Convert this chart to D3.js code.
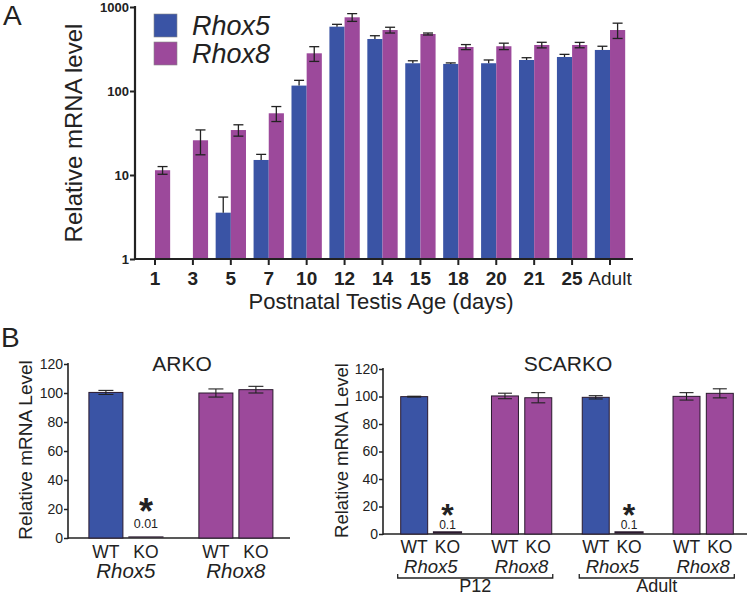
<!DOCTYPE html>
<html>
<head>
<meta charset="utf-8">
<script src="https://cdn.jsdelivr.net/npm/d3@7"></script>
<style>
  body { margin: 0; background: #fff; }
  svg { display: block; font-family: "Liberation Sans", Arial, sans-serif; }
  text { fill: #222; }
</style>
</head>
<body>
<div id="contents"></div>
<script>
// ---- panel A data ----
var ages = ["1", "3", "5", "7", "10", "12", "14", "15", "18", "20", "21", "25", "Adult"];
var genes = ["Rhox5", "Rhox8"];
var rhox5Mean = [null, null, 3.56, 15.1, 116, 583, 416, 214, 210, 214, 234, 254, 308];
var rhox5Sem  = [null, null, 1.9, 2.5, 18, 39, 39, 15, 6, 20, 15, 19, 33];
var rhox8Mean = [11.4, 25.9, 34.3, 54.3, 281, 754, 532, 477, 334, 341, 353, 353, 532];
var rhox8Sem  = [1.2, 8.5, 5.3, 11, 56, 80, 42, 13, 23, 30, 27, 26, 110];
var logTicks = [1, 10, 100, 1000];

// ---- panel B data ----
var conds = ["WT", "KO"];
var arkoGroups = ["Rhox5", "Rhox8"];
var arkoMean = [[100.4, 0.01], [100, 102.3]];
var arkoSem  = [[1.4, 0], [2.8, 2.3]];

var scarkoGroups = ["P12 Rhox5", "P12 Rhox8", "Adult Rhox5", "Adult Rhox8"];
var scarkoMean = [[99.9, 0.1], [100.4, 99.1], [99.4, 0.1], [100.1, 102.3]];
var scarkoSem  = [[0.3, 0], [2, 3.7], [1.2, 0], [2.7, 3.3]];
var stages = ["P12", "Adult"];
var linTicks = [0, 20, 40, 60, 80, 100, 120];

var blue = "#3a54a5", purple = "#9c499b";
var color = d3.scaleOrdinal().domain(genes).range([blue, purple]);

var width = 748, height = 597;
var svg = d3.select("#contents").append("svg")
  .attr("width", width).attr("height", height);

// ================= Panel A =================
var x = d3.scaleBand().domain(ages).range([135, 630]).paddingInner(0.2).paddingOuter(0.127);
var xs = d3.scaleBand().domain(genes).range([0, x.bandwidth()]);
var y = d3.scaleLog().domain([1, 1000]).range([259, 7]);

var rowsA = ages.map(function(a, i) {
  return [
    { age: a, gene: "Rhox5", v: rhox5Mean[i], e: rhox5Sem[i], upOnly: true },
    { age: a, gene: "Rhox8", v: rhox8Mean[i], e: rhox8Sem[i], upOnly: false }
  ];
});
var barsA = [].concat.apply([], rowsA).filter(function(d) { return d.v != null; });

var gA = svg.append("g");
gA.selectAll(".barA").data(barsA).enter().append("rect")
  .attr("class", "barA")
  .attr("x", function(d) { return x(d.age) + xs(d.gene); })
  .attr("y", function(d) { return y(d.v); })
  .attr("width", xs.bandwidth())
  .attr("height", function(d) { return y(1) - y(d.v); })
  .attr("fill", function(d) { return color(d.gene); });

var errA = gA.selectAll(".errA").data(barsA).enter().append("g")
  .attr("class", "errA")
  .attr("stroke", "#222").attr("stroke-width", 1.3);
function cxA(d) { return x(d.age) + xs(d.gene) + xs.bandwidth() / 2; }
errA.append("line")
  .attr("x1", cxA).attr("x2", cxA)
  .attr("y1", function(d) { return y(d.v + d.e); })
  .attr("y2", function(d) { return d.upOnly ? y(d.v) : y(d.v - d.e); });
errA.append("line")
  .attr("x1", function(d) { return cxA(d) - 5; }).attr("x2", function(d) { return cxA(d) + 5; })
  .attr("y1", function(d) { return y(d.v + d.e); }).attr("y2", function(d) { return y(d.v + d.e); });
errA.filter(function(d) { return !d.upOnly; }).append("line")
  .attr("x1", function(d) { return cxA(d) - 5; }).attr("x2", function(d) { return cxA(d) + 5; })
  .attr("y1", function(d) { return y(d.v - d.e); }).attr("y2", function(d) { return y(d.v - d.e); });

// axes A
var axA = gA.append("g").attr("transform", "translate(0,259)")
  .call(d3.axisBottom(x).tickSize(6).tickPadding(7).tickSizeOuter(0));
axA.select(".domain").remove();
axA.selectAll(".tick line").attr("stroke", "#222").attr("stroke-width", 2);
axA.selectAll(".tick text")
  .attr("font-size", 19).attr("font-weight", function(d) { return d === "Adult" ? "normal" : "bold"; })
  .attr("fill", "#222")
  .attr("font-family", "Liberation Sans, Arial, sans-serif");

var ayA = gA.append("g").attr("transform", "translate(135,0)")
  .call(d3.axisLeft(y).tickValues(logTicks).tickFormat(d3.format("d")).tickSize(5).tickPadding(1));
ayA.select(".domain").remove();
ayA.selectAll(".tick line").attr("stroke", "#222").attr("stroke-width", 2);
ayA.selectAll(".tick text").attr("font-size", 13).attr("font-weight", "bold").attr("fill", "#222")
  .attr("font-family", "Liberation Sans, Arial, sans-serif");

gA.append("line").attr("x1", 135).attr("x2", 135).attr("y1", 6).attr("y2", 260)
  .attr("stroke", "#222").attr("stroke-width", 2.2);
gA.append("line").attr("x1", 134).attr("x2", 633).attr("y1", 259).attr("y2", 259)
  .attr("stroke", "#222").attr("stroke-width", 2.2);

gA.append("text").attr("x", 381).attr("y", 309).attr("text-anchor", "middle")
  .attr("font-size", 22).text("Postnatal Testis Age (days)");
gA.append("text").attr("transform", "translate(82,133) rotate(-90)").attr("text-anchor", "middle")
  .attr("font-size", 24).text("Relative mRNA level");
gA.append("text").attr("x", 3).attr("y", 25).attr("font-size", 28).text("A");

// legend
var leg = gA.selectAll(".leg").data(genes).enter().append("g")
  .attr("transform", function(d, i) { return "translate(154," + (14 + i * 28) + ")"; });
leg.append("rect").attr("width", 23).attr("height", 23)
  .attr("fill", function(d) { return color(d); }).attr("stroke", "#888").attr("stroke-width", 0.6);
leg.append("text").attr("x", 38).attr("y", 21).attr("font-size", 27).attr("font-style", "italic")
  .text(function(d) { return d; });

// ================= Panel B =================
function drawB(opt) {
  var g = svg.append("g");
  var gx = d3.scaleBand().domain(opt.groups).range(opt.range)
    .paddingInner(opt.pIn).paddingOuter(opt.pOut);
  var cx = d3.scaleBand().domain(conds).range([0, gx.bandwidth()]).paddingInner(opt.cPad);
  var gy = d3.scaleLinear().domain([0, 120]).range([opt.y0, opt.y120]);

  var rows = [];
  opt.groups.forEach(function(gr, i) {
    conds.forEach(function(c, j) {
      rows.push({ group: gr, cond: c, v: opt.mean[i][j], e: opt.sem[i][j],
        gene: gr.indexOf("Rhox5") >= 0 ? "Rhox5" : "Rhox8" });
    });
  });

  // axes first so the knocked-out bars sit on top of the baseline
  var ay = g.append("g").attr("transform", "translate(" + opt.range[0] + ",0)")
    .call(d3.axisLeft(gy).tickValues(linTicks).tickSize(4).tickPadding(1));
  ay.select(".domain").remove();
  ay.selectAll(".tick line").attr("stroke", "#222").attr("stroke-width", 1.5);
  ay.selectAll(".tick text").attr("font-size", 14).attr("fill", "#222")
    .attr("font-family", "Liberation Sans, Arial, sans-serif");
  g.append("line").attr("x1", opt.range[0]).attr("x2", opt.range[0])
    .attr("y1", gy(120) - 1).attr("y2", gy(0) + 1).attr("stroke", "#222").attr("stroke-width", 1.6);
  g.append("line").attr("x1", opt.range[0]).attr("x2", opt.axisEnd)
    .attr("y1", gy(0)).attr("y2", gy(0)).attr("stroke", "#222").attr("stroke-width", 1.6);

  g.selectAll(".barB").data(rows).enter().append("rect")
    .attr("x", function(d) { return gx(d.group) + cx(d.cond); })
    .attr("y", function(d) { return gy(d.v) - (d.v < 1 ? opt.koLift : 0); })
    .attr("width", cx.bandwidth())
    .attr("height", function(d) { return gy(0) - gy(d.v); })
    .attr("fill", function(d) { return color(d.gene); })
    .attr("stroke", "#2a1a2e").attr("stroke-width", function(d) { return d.v < 1 ? opt.koStroke : 1; });

  function bx(d) { return gx(d.group) + cx(d.cond) + cx.bandwidth() / 2; }
  var eb = g.selectAll(".errB").data(rows.filter(function(d) { return d.e > 0; })).enter().append("g")
    .attr("stroke", "#222").attr("stroke-width", 1.1);
  eb.append("line").attr("x1", bx).attr("x2", bx)
    .attr("y1", function(d) { return gy(d.v + d.e); }).attr("y2", function(d) { return gy(d.v - d.e); });
  [1, -1].forEach(function(s) {
    eb.append("line")
      .attr("x1", function(d) { return bx(d) - opt.cap; }).attr("x2", function(d) { return bx(d) + opt.cap; })
      .attr("y1", function(d) { return gy(d.v + s * d.e); }).attr("y2", function(d) { return gy(d.v + s * d.e); });
  });

  // knockout marks
  var ko = rows.filter(function(d) { return d.v < 1; });
  g.selectAll(".star").data(ko).enter().append("text")
    .attr("x", bx).attr("y", opt.starY).attr("text-anchor", "middle")
    .attr("font-size", opt.starSize).attr("font-weight", "bold").text("*");
  g.selectAll(".kov").data(ko).enter().append("text")
    .attr("x", bx).attr("y", opt.valY).attr("text-anchor", "middle")
    .attr("font-size", opt.valSize).text(function(d) { return String(d.v); });

  // category labels
  g.selectAll(".cond").data(rows).enter().append("text")
    .attr("x", bx).attr("y", opt.condY).attr("text-anchor", "middle")
    .attr("font-size", opt.condSize).text(function(d) { return d.cond; });
  g.selectAll(".gene").data(opt.groups).enter().append("text")
    .attr("x", function(d) { return gx(d) + gx.bandwidth() / 2; })
    .attr("y", opt.geneY).attr("text-anchor", "middle")
    .attr("font-size", opt.geneSize).attr("font-style", "italic")
    .text(function(d) { return d.indexOf("Rhox5") >= 0 ? "Rhox5" : "Rhox8"; });

  g.append("text").attr("x", opt.titleX).attr("y", 371).attr("text-anchor", "middle")
    .attr("font-size", 21).text(opt.title);
  g.append("text").attr("transform", "translate(" + opt.ytX + "," + ((opt.y0 + opt.y120) / 2 - 1) + ") rotate(-90)")
    .attr("text-anchor", "middle").attr("font-size", opt.ytSize).text("Relative mRNA Level");

  return { gx: gx, g: g };
}

drawB({
  groups: arkoGroups, mean: arkoMean, sem: arkoSem,
  range: [68, 293.8], pIn: 0.327, pOut: 0.19, cPad: 0.15, axisEnd: 290,
  y0: 538, y120: 364, cap: 7.5, condY: 558, condSize: 17.5, geneY: 578, geneSize: 20.5,
  starY: 524, starSize: 36, valY: 528, valSize: 12.5, koStroke: 1.2, koLift: 1,
  title: "ARKO", titleX: 182, ytX: 32, ytSize: 19
});

var sc = drawB({
  groups: scarkoGroups, mean: scarkoMean, sem: scarkoSem,
  range: [383, 751], pIn: 0.336, pOut: 0.195, cPad: 0.19, axisEnd: 747,
  y0: 534, y120: 369, cap: 7, condY: 553, condSize: 17.5, geneY: 573, geneSize: 18.5,
  starY: 526, starSize: 32, valY: 529, valSize: 12, koStroke: 2.2, koLift: 1.5,
  title: "SCARKO", titleX: 568, ytX: 348, ytSize: 18.5
});

// stage brackets under the SCARKO groups
var br = sc.g.selectAll(".bracket").data(stages).enter().append("g");
function brX0(s) { return sc.gx(s + " Rhox5") - 3; }
function brX1(s) { return sc.gx(s + " Rhox8") + sc.gx.bandwidth() + 1; }
br.append("path")
  .attr("d", function(s) {
    return "M" + brX0(s) + ",574V578H" + brX1(s) + "V574";
  })
  .attr("fill", "none").attr("stroke", "#222").attr("stroke-width", 1.3);
br.append("text")
  .attr("x", function(s) { return (brX0(s) + brX1(s)) / 2; })
  .attr("y", 592).attr("text-anchor", "middle").attr("font-size", 18)
  .text(function(s) { return s; });

svg.append("text").attr("x", 1).attr("y", 347).attr("font-size", 28).text("B");
</script>
</body>
</html>
